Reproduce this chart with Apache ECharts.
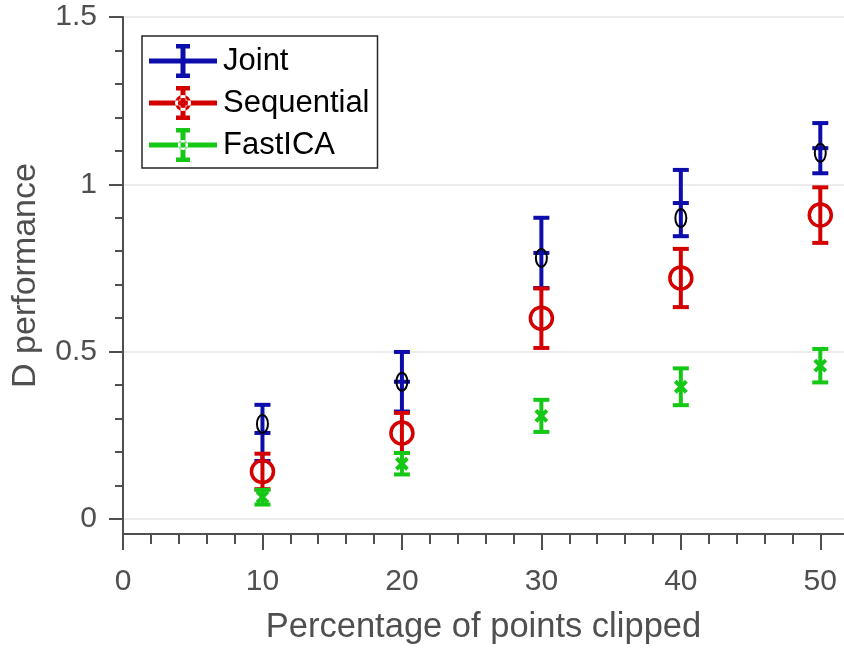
<!DOCTYPE html>
<html>
<head>
<meta charset="utf-8">
<script src="https://cdn.jsdelivr.net/npm/echarts@6/dist/echarts.min.js"></script>
<style>
html,body{margin:0;padding:0;background:#fff;}
#chart{width:844px;height:648px;}
</style>
</head>
<body>
<div id="chart"></div>
<script>
// ---- data ----
const xValues = [10, 20, 30, 40, 50];
const jointMean = [0.257, 0.41, 0.795, 0.944, 1.108];
const jointErr = [0.084, 0.089, 0.105, 0.099, 0.075];
const jointMarker = [0.284, 0.41, 0.780, 0.899, 1.094];
const seqMean = [0.142, 0.257, 0.600, 0.720, 0.908];
const seqErr = [0.053, 0.060, 0.089, 0.087, 0.083];
const icaMean = [0.065, 0.165, 0.308, 0.395, 0.458];
const icaErr = [0.022, 0.032, 0.048, 0.055, 0.050];
const yMajor = [0, 0.5, 1, 1.5];
const yMinor = [0.1, 0.2, 0.3, 0.4, 0.6, 0.7, 0.8, 0.9, 1.1, 1.2, 1.3, 1.4];
const xMajor = [0, 10, 20, 30, 40, 50];
const xMinor = [2, 4, 6, 8, 12, 14, 16, 18, 22, 24, 26, 28, 32, 34, 36, 38, 42, 44, 46, 48];

const C_BLUE = '#0d0dab', C_RED = '#d40000', C_GREEN = '#16c816';
const FONT = 'Liberation Sans, Arial, Helvetica, sans-serif';
const AX = '#4f4f4f';

function errRender(color, kind) {
  return function (params, api) {
    const x = api.value(0), m = api.value(1), e = api.value(2);
    const pt = api.coord([x, m + e]);
    const pb = api.coord([x, m - e]);
    const pm = api.coord([x, m]);
    const cw = 8, lw = 4;
    const st = { stroke: color, lineWidth: lw, fill: null };
    const ch = [
      { type: 'line', shape: { x1: pt[0], y1: pt[1], x2: pb[0], y2: pb[1] }, style: st },
      { type: 'line', shape: { x1: pt[0] - cw, y1: pt[1], x2: pt[0] + cw, y2: pt[1] }, style: st },
      { type: 'line', shape: { x1: pb[0] - cw, y1: pb[1], x2: pb[0] + cw, y2: pb[1] }, style: st }
    ];
    if (kind === 'joint') {
      ch.push({ type: 'line', shape: { x1: pm[0] - cw, y1: pm[1], x2: pm[0] + cw, y2: pm[1] }, style: st });
      const pk = api.coord([x, api.value(3)]);
      ch.push({ type: 'ellipse', shape: { cx: pk[0], cy: pk[1], rx: 5.5, ry: 9 }, style: { stroke: '#000', lineWidth: 2, fill: null } });
    } else if (kind === 'circle') {
      ch.push({ type: 'circle', shape: { cx: pm[0], cy: pm[1], r: 11 }, style: { stroke: color, lineWidth: 3.5, fill: null } });
    } else if (kind === 'x') {
      const s = 5.5;
      ch.push({ type: 'line', shape: { x1: pm[0] - s, y1: pm[1] - s, x2: pm[0] + s, y2: pm[1] + s }, style: { stroke: color, lineWidth: 4 } });
      ch.push({ type: 'line', shape: { x1: pm[0] - s, y1: pm[1] + s, x2: pm[0] + s, y2: pm[1] - s }, style: { stroke: color, lineWidth: 4 } });
    }
    return { type: 'group', children: ch };
  };
}

// legend icons (68 x 34 box)
const baseIcon = 'M0 14.5 L68 14.5 L68 19.5 L0 19.5 Z M31.5 0 L36.5 0 L36.5 34 L31.5 34 Z M27 0 L41 0 L41 4.5 L27 4.5 Z M27 29.5 L41 29.5 L41 34 L27 34 Z';
const ringIcon = ' M42 17 A8 8 0 1 0 26 17 A8 8 0 1 0 42 17 Z M39 17 A5 5 0 1 1 29 17 A5 5 0 1 1 39 17 Z';
const dotIcon = ' M39 17 A5 5 0 1 0 29 17 A5 5 0 1 0 39 17 Z';

const chart = echarts.init(document.getElementById('chart'));
const option = {
  backgroundColor: '#fff',
  animation: false,
  textStyle: { fontFamily: FONT },
  grid: { left: 123, right: 0, top: 17, bottom: 114, containLabel: false, outerBoundsMode: 'none' },
  legend: {
    left: 142, top: 36, orient: 'vertical',
    itemWidth: 68, itemHeight: 34, itemGap: 8,
    padding: [8, 8, 6, 7],
    borderColor: '#262626', borderWidth: 1.5, backgroundColor: '#fff',
    selectedMode: false,
    textStyle: { fontSize: 31, color: '#000', fontFamily: FONT, padding: [0, 0, 0, 1] },
    data: [
      { name: 'Joint', icon: 'path://' + baseIcon },
      { name: 'Sequential', icon: 'path://' + baseIcon + ringIcon },
      { name: 'FastICA', icon: 'path://' + baseIcon + dotIcon }
    ]
  },
  xAxis: [{
    type: 'value', position: 'bottom', min: 0, max: 51.7, splitNumber: 5,
    name: 'Percentage of points clipped', nameLocation: 'middle', nameGap: 76,
    nameTextStyle: { fontSize: 34.5, color: AX, fontFamily: FONT },
    axisLine: { show: true, onZero: false, lineStyle: { color: AX, width: 2 } },
    axisTick: { show: true, inside: false, length: 16, customValues: xMajor, lineStyle: { color: AX, width: 2 } },
    axisLabel: { show: true, customValues: xMajor, fontSize: 30, color: AX, margin: 33, fontFamily: FONT },
    splitLine: { show: false }
  }, {
    type: 'value', position: 'bottom', min: 0, max: 51.7,
    axisLine: { show: false, onZero: false },
    axisTick: { show: true, inside: false, length: 10, customValues: xMinor, lineStyle: { color: AX, width: 2 } },
    axisLabel: { show: false },
    splitLine: { show: false }
  }],
  yAxis: [{
    type: 'value', position: 'left', min: -0.045, max: 1.5, splitNumber: 3,
    name: 'D performance', nameLocation: 'middle', nameGap: 80, nameRotate: 90,
    nameTextStyle: { fontSize: 34, color: AX, fontFamily: FONT },
    axisLine: { show: true, onZero: false, lineStyle: { color: AX, width: 2 } },
    axisTick: { show: true, inside: false, length: 14, customValues: yMajor, lineStyle: { color: AX, width: 2 } },
    axisLabel: { show: true, customValues: yMajor, fontSize: 30, color: AX, margin: 26, fontFamily: FONT,
      formatter: function (v) { return String(v); } },
    splitLine: { show: true, lineStyle: { color: '#e6e6e6', width: 1.5 } }
  }, {
    type: 'value', position: 'left', min: -0.045, max: 1.5,
    axisLine: { show: false, onZero: false },
    axisTick: { show: true, inside: false, length: 8, customValues: yMinor, lineStyle: { color: AX, width: 2 } },
    axisLabel: { show: false },
    splitLine: { show: false }
  }],
  series: [
    {
      name: 'Joint', type: 'custom', xAxisIndex: 0, yAxisIndex: 0,
      itemStyle: { color: C_BLUE },
      renderItem: errRender(C_BLUE, 'joint'),
      data: xValues.map((x, i) => [x, jointMean[i], jointErr[i], jointMarker[i]]),
      z: 3
    },
    {
      name: 'Sequential', type: 'custom', xAxisIndex: 0, yAxisIndex: 0,
      itemStyle: { color: C_RED },
      renderItem: errRender(C_RED, 'circle'),
      data: xValues.map((x, i) => [x, seqMean[i], seqErr[i]]),
      z: 4
    },
    {
      name: 'FastICA', type: 'custom', xAxisIndex: 0, yAxisIndex: 0,
      itemStyle: { color: C_GREEN },
      renderItem: errRender(C_GREEN, 'x'),
      data: xValues.map((x, i) => [x, icaMean[i], icaErr[i]]),
      z: 5
    }
  ]
};
chart.setOption(option);
</script>
</body>
</html>
